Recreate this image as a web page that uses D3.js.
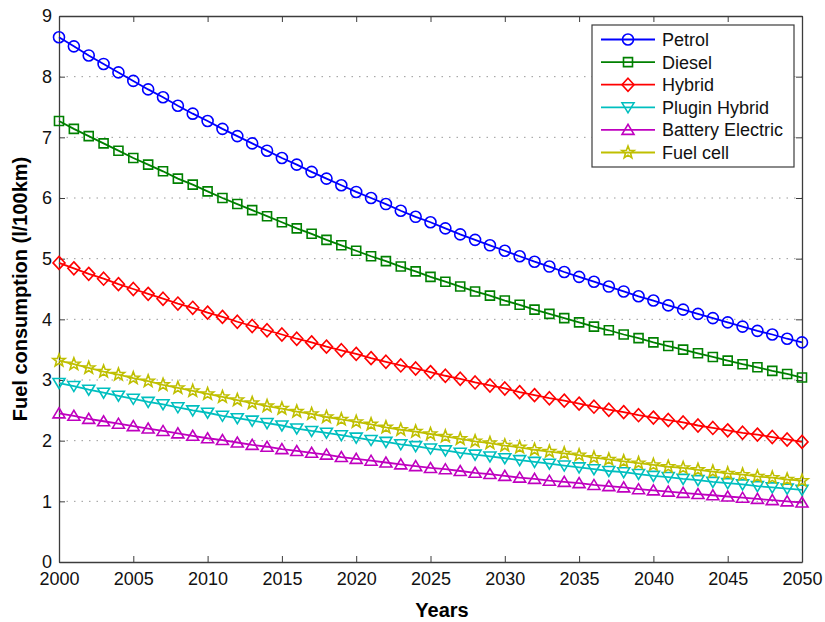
<!DOCTYPE html>
<html>
<head>
<meta charset="utf-8">
<script src="https://cdn.jsdelivr.net/npm/d3@7"></script>
<style>
  body { margin: 0; background: #fff; }
  svg text { font-family: "Liberation Sans", Arial, Helvetica, sans-serif; }
</style>
</head>
<body>
<svg id="chart" width="825" height="622"></svg>
<script>
// years 2000..2050
var years = d3.range(2000, 2051);

var petrol = [8.65,8.50,8.35,8.21,8.07,7.93,7.79,7.66,7.52,7.39,7.27,7.14,7.02,6.90,6.78,6.66,6.55,6.43,6.32,6.21,
  6.10,6.00,5.90,5.79,5.69,5.60,5.50,5.40,5.31,5.22,5.13,5.04,4.95,4.87,4.78,4.70,4.62,4.54,4.46,4.38,
  4.31,4.23,4.16,4.09,4.02,3.95,3.88,3.81,3.75,3.68,3.62];
var diesel = [7.27,7.14,7.02,6.90,6.78,6.66,6.55,6.44,6.32,6.22,6.11,6.00,5.90,5.80,5.70,5.60,5.50,5.41,5.31,5.22,
  5.13,5.04,4.96,4.87,4.79,4.70,4.62,4.54,4.46,4.39,4.31,4.24,4.16,4.09,4.02,3.95,3.88,3.82,3.75,3.69,
  3.62,3.56,3.50,3.44,3.38,3.32,3.26,3.21,3.15,3.10,3.04];
var hybrid = [4.93,4.84,4.75,4.67,4.58,4.50,4.42,4.34,4.26,4.19,4.11,4.04,3.96,3.89,3.82,3.75,3.68,3.62,3.55,3.49,
  3.43,3.36,3.30,3.24,3.19,3.13,3.07,3.02,2.96,2.91,2.86,2.80,2.75,2.70,2.66,2.61,2.56,2.51,2.47,2.42,
  2.38,2.34,2.30,2.25,2.21,2.17,2.13,2.10,2.06,2.02,1.98];
var pluginHybrid = [2.95,2.90,2.84,2.79,2.74,2.69,2.64,2.60,2.55,2.50,2.46,2.41,2.37,2.33,2.29,2.25,2.20,2.16,2.13,2.09,
  2.05,2.01,1.98,1.94,1.91,1.87,1.84,1.80,1.77,1.74,1.71,1.68,1.65,1.62,1.59,1.56,1.53,1.50,1.48,1.45,
  1.42,1.40,1.37,1.35,1.32,1.30,1.28,1.25,1.23,1.21,1.19];
var batteryElectric = [2.45,2.41,2.36,2.32,2.28,2.24,2.20,2.16,2.12,2.08,2.04,2.01,1.97,1.93,1.90,1.86,1.83,1.80,1.77,1.73,
  1.70,1.67,1.64,1.61,1.58,1.55,1.53,1.50,1.47,1.45,1.42,1.39,1.37,1.34,1.32,1.30,1.27,1.25,1.23,1.20,
  1.18,1.16,1.14,1.12,1.10,1.08,1.06,1.04,1.02,1.00,0.98];
var fuelCell = [3.32,3.26,3.20,3.14,3.09,3.03,2.98,2.92,2.87,2.82,2.77,2.72,2.67,2.62,2.57,2.53,2.48,2.44,2.39,2.35,
  2.31,2.27,2.22,2.18,2.15,2.11,2.07,2.03,1.99,1.96,1.92,1.89,1.85,1.82,1.79,1.76,1.72,1.69,1.66,1.63,
  1.60,1.57,1.55,1.52,1.49,1.46,1.44,1.41,1.39,1.36,1.34];

var seriesNames = ["Petrol", "Diesel", "Hybrid", "Plugin Hybrid", "Battery Electric", "Fuel cell"];
var seriesValues = [petrol, diesel, hybrid, pluginHybrid, batteryElectric, fuelCell];
var seriesColors = ["#0000ff", "#008000", "#ff0000", "#00bfbf", "#bf00bf", "#bfbf00"];
var seriesMarkers = ["circle", "square", "diamond", "triangleDown", "triangleUp", "star"];

var xTicks = d3.range(2000, 2051, 5);
var yTicks = d3.range(0, 10, 1);

var margin = {left: 59, right: 23, top: 16, bottom: 60};
var width = 825, height = 622;

var svg = d3.select("#chart");

var x = d3.scaleLinear().domain([2000, 2050]).range([margin.left, width - margin.right]);
var y = d3.scaleLinear().domain([0, 9]).range([height - margin.bottom, margin.top]);

// marker shapes
function markerPath(type) {
  if (type == "circle") return d3.symbol().type(d3.symbolCircle).size(Math.PI * 5.5 * 5.5)();
  if (type == "square") return "M-4.5,-4.5H4.5V4.5H-4.5Z";
  if (type == "diamond") return "M0,-6.5L6,0L0,6.5L-6,0Z";
  if (type == "triangleDown") return "M-6,-4.5H6L0,5.5Z";
  if (type == "triangleUp") return "M-6,4.5H6L0,-5.5Z";
  if (type == "star") {
    var pts = [];
    for (var i = 0; i < 10; i++) {
      var r = i % 2 == 0 ? 6.5 : 2.7;
      var a = -Math.PI / 2 + i * Math.PI / 5;
      pts.push([r * Math.cos(a), r * Math.sin(a)]);
    }
    return "M" + pts.map(function(p) { return p[0].toFixed(2) + "," + p[1].toFixed(2); }).join("L") + "Z";
  }
}

// grid (horizontal only)
svg.append("g")
  .selectAll("line")
  .data(yTicks.slice(1, -1))
  .enter().append("line")
  .attr("x1", x(2000)).attr("x2", x(2050))
  .attr("y1", function(d) { return y(d); }).attr("y2", function(d) { return y(d); })
  .attr("stroke", "#9a9a9a")
  .attr("stroke-width", 1)
  .attr("stroke-dasharray", "1.5,6");

// axes (ticks inward, box all round)
var axisColor = "#3c3c3c";
var bottomAxis = svg.append("g")
  .attr("transform", "translate(0," + y(0) + ")")
  .call(d3.axisBottom(x).tickValues(xTicks).tickFormat(d3.format("d")).tickSizeInner(-6).tickSizeOuter(0).tickPadding(10));
var leftAxis = svg.append("g")
  .attr("transform", "translate(" + x(2000) + ",0)")
  .call(d3.axisLeft(y).tickValues(yTicks).tickSizeInner(-6).tickSizeOuter(0).tickPadding(7));
var topAxis = svg.append("g")
  .attr("transform", "translate(0," + y(9) + ")")
  .call(d3.axisTop(x).tickValues(xTicks).tickFormat("").tickSizeInner(-6).tickSizeOuter(0));
var rightAxis = svg.append("g")
  .attr("transform", "translate(" + x(2050) + ",0)")
  .call(d3.axisRight(y).tickValues(yTicks).tickFormat("").tickSizeInner(-6).tickSizeOuter(0));

[bottomAxis, leftAxis, topAxis, rightAxis].forEach(function(g) {
  g.select(".domain").attr("stroke", axisColor).attr("stroke-width", 1.3);
  g.selectAll(".tick line").attr("stroke", axisColor).attr("stroke-width", 1);
  g.selectAll(".tick text")
    .attr("fill", "#111")
    .style("font-size", "18px")
    .style("font-family", "'Liberation Sans', Arial, sans-serif");
});

// series
var line = d3.line()
  .x(function(d, i) { return x(years[i]); })
  .y(function(d) { return y(d); });

seriesValues.forEach(function(vals, k) {
  var g = svg.append("g").attr("class", "series");
  g.append("path")
    .datum(vals)
    .attr("d", line)
    .attr("fill", "none")
    .attr("stroke", seriesColors[k])
    .attr("stroke-width", 1.8);
  g.selectAll("path.marker")
    .data(vals)
    .enter().append("path")
    .attr("class", "marker")
    .attr("transform", function(d, i) { return "translate(" + x(years[i]) + "," + y(d) + ")"; })
    .attr("d", markerPath(seriesMarkers[k]))
    .attr("fill", "none")
    .attr("stroke", seriesColors[k])
    .attr("stroke-width", 1.6);
});

// axis titles
svg.append("text")
  .attr("x", 442).attr("y", 617)
  .attr("text-anchor", "middle")
  .style("font-size", "20px").style("font-weight", "bold")
  .text("Years");

svg.append("text")
  .attr("transform", "translate(27," + 289 + ") rotate(-90)")
  .attr("text-anchor", "middle")
  .style("font-size", "20px").style("font-weight", "bold")
  .text("Fuel consumption (l/100km)");

// legend
var legend = svg.append("g").attr("transform", "translate(592,25)");
legend.append("rect")
  .attr("width", 202).attr("height", 142)
  .attr("fill", "#fff")
  .attr("stroke", axisColor).attr("stroke-width", 1.2);

var rows = legend.selectAll("g.row")
  .data(seriesNames)
  .enter().append("g")
  .attr("class", "row")
  .attr("transform", function(d, i) { return "translate(0," + (14.5 + i * 22.6) + ")"; });

rows.append("line")
  .attr("x1", 9).attr("x2", 63)
  .attr("stroke", function(d, i) { return seriesColors[i]; })
  .attr("stroke-width", 1.8);
rows.append("path")
  .attr("transform", "translate(36,0)")
  .attr("d", function(d, i) { return markerPath(seriesMarkers[i]); })
  .attr("fill", "none")
  .attr("stroke", function(d, i) { return seriesColors[i]; })
  .attr("stroke-width", 1.6);
rows.append("text")
  .attr("x", 70).attr("y", 6.5)
  .style("font-size", "18px")
  .attr("fill", "#111")
  .text(function(d) { return d; });
</script>
</body>
</html>
